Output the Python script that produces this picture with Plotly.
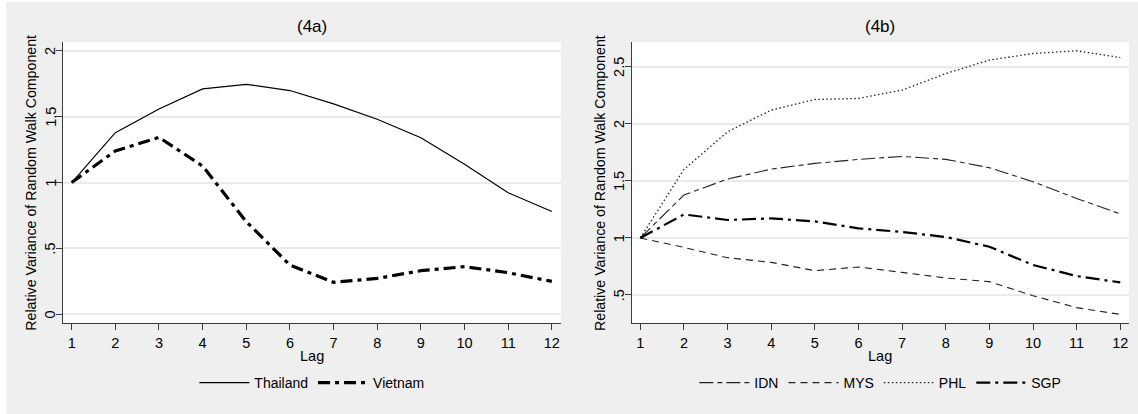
import plotly.graph_objects as go

lags = list(range(1, 13))

thailand = [1.0, 1.378, 1.558, 1.71, 1.745, 1.698, 1.597, 1.48, 1.34, 1.138, 0.923, 0.78]
vietnam = [1.0, 1.24, 1.343, 1.125, 0.703, 0.374, 0.243, 0.273, 0.331, 0.362, 0.316, 0.25]

idn = [1.0, 1.376, 1.516, 1.603, 1.653, 1.688, 1.714, 1.688, 1.615, 1.492, 1.346, 1.21]
mys = [1.0, 0.917, 0.827, 0.786, 0.713, 0.745, 0.698, 0.649, 0.617, 0.494, 0.389, 0.33]
phl = [1.0, 1.60, 1.93, 2.12, 2.213, 2.222, 2.295, 2.44, 2.558, 2.616, 2.64, 2.58]
sgp = [1.0, 1.206, 1.157, 1.171, 1.145, 1.084, 1.052, 1.008, 0.923, 0.763, 0.666, 0.61]

left_yticks = [0, 0.5, 1, 1.5, 2]
left_ytext = ["0", ".5", "1", "1.5", "2"]
right_yticks = [0.5, 1, 1.5, 2, 2.5]
right_ytext = [".5", "1", "1.5", "2", "2.5"]

FONT = "Arial, Liberation Sans, sans-serif"
BG = "#efefef"
GRID = "#eaeaea"
AX = "#3c3c3c"
W, H = 1138, 414
TF = 14

fig = go.Figure()

fig.add_trace(go.Scatter(x=lags, y=thailand, mode="lines", name="Thailand",
                         line=dict(color="black", width=1.2), xaxis="x", yaxis="y", legend="legend"))
fig.add_trace(go.Scatter(x=lags, y=vietnam, mode="lines", name="Vietnam",
                         line=dict(color="black", width=3.2, dash="12px,5px,4px,5px"),
                         xaxis="x", yaxis="y", legend="legend"))

fig.add_trace(go.Scatter(x=lags, y=idn, mode="lines", name="IDN",
                         line=dict(color="#222222", width=1.1, dash="14px,4px,5px,4px"),
                         xaxis="x2", yaxis="y2", legend="legend2"))
fig.add_trace(go.Scatter(x=lags, y=mys, mode="lines", name="MYS",
                         line=dict(color="#222222", width=1.1, dash="7px,5px"),
                         xaxis="x2", yaxis="y2", legend="legend2"))
fig.add_trace(go.Scatter(x=lags, y=phl, mode="lines", name="PHL",
                         line=dict(color="#222222", width=1.3, dash="1.5px,2.5px"),
                         xaxis="x2", yaxis="y2", legend="legend2"))
fig.add_trace(go.Scatter(x=lags, y=sgp, mode="lines", name="SGP",
                         line=dict(color="black", width=2.2, dash="14px,5px,3px,5px"),
                         xaxis="x2", yaxis="y2", legend="legend2"))

ydom = [1 - 323.3 / H, 1 - 42.3 / H]
LEFT = (62.7, 561)
RIGHT = (631.7, 1129)

xcommon = dict(tickvals=lags, ticktext=[str(v) for v in lags], showgrid=False, zeroline=False,
               showline=True, linecolor=AX, linewidth=1.3, ticks="outside", ticklen=6,
               tickcolor=AX, tickwidth=1.2, tickfont=dict(family=FONT, size=TF + 0.5, color="black"),
               ticklabeloverflow="allow")
ycommon = dict(showgrid=True, gridcolor=GRID, gridwidth=1.5, zeroline=False,
               showline=True, linecolor=AX, linewidth=1.3, ticks="outside", ticklen=6,
               tickcolor=AX, tickwidth=1.2, showticklabels=False, domain=ydom)

fig.update_layout(
    width=W, height=H,
    margin=dict(l=0, r=0, t=0, b=0),
    paper_bgcolor=BG, plot_bgcolor="white",
    font=dict(family=FONT, size=TF, color="black"),
    xaxis=dict(xcommon, domain=[LEFT[0] / W, LEFT[1] / W], range=[0.794, 12.21], anchor="y"),
    yaxis=dict(ycommon, range=[-0.068, 2.064], tickvals=left_yticks, anchor="x"),
    xaxis2=dict(xcommon, domain=[RIGHT[0] / W, RIGHT[1] / W], range=[0.803, 12.2], anchor="y2"),
    yaxis2=dict(ycommon, range=[0.252, 2.714], tickvals=right_yticks, anchor="x2"),
    legend=dict(orientation="h", x=sum(LEFT) / 2 / W, xanchor="center", y=1 - 383 / H, yanchor="middle",
                bgcolor="rgba(0,0,0,0)", font=dict(family=FONT, size=TF), itemwidth=50),
    legend2=dict(orientation="h", x=sum(RIGHT) / 2 / W, xanchor="center", y=1 - 383 / H, yanchor="middle",
                 bgcolor="rgba(0,0,0,0)", font=dict(family=FONT, size=TF), itemwidth=50),
    showlegend=True,
)

# rotated y tick labels (Stata style)
for (x0, _), yref, vals, texts in [(LEFT, "y", left_yticks, left_ytext),
                                   (RIGHT, "y2", right_yticks, right_ytext)]:
    for v, t in zip(vals, texts):
        fig.add_annotation(x=(x0 - 12.5) / W, xref="paper", y=v, yref=yref, text=t, textangle=-90,
                           showarrow=False, xanchor="center", yanchor="middle",
                           font=dict(family=FONT, size=TF + 0.5, color="black"))

# panel titles, x-axis titles and y-axis titles
for (x0, x1), txt in [(LEFT, "(4a)"), (RIGHT, "(4b)")]:
    xc = (x0 + x1) / 2 / W
    fig.add_annotation(x=xc, y=1 - 27 / H, xref="paper", yref="paper", text=txt, showarrow=False,
                       font=dict(family=FONT, size=17, color="black"), xanchor="center", yanchor="middle")
    fig.add_annotation(x=xc, y=1 - 356 / H, xref="paper", yref="paper", text="Lag", showarrow=False,
                       font=dict(family=FONT, size=TF + 0.5, color="black"), xanchor="center", yanchor="middle")
for xc in [30.7 / W, 600 / W]:
    fig.add_annotation(x=xc, y=1 - 183 / H, xref="paper", yref="paper",
                       text="Relative Variance of Random Walk Component", textangle=-90, showarrow=False,
                       font=dict(family=FONT, size=14.2, color="black"), xanchor="center", yanchor="middle")

# white outer strip at left and top edge
fig.add_shape(type="rect", xref="paper", yref="paper", x0=0, x1=6 / W, y0=0, y1=1,
              fillcolor="white", line=dict(width=0), layer="below")
fig.add_shape(type="rect", xref="paper", yref="paper", x0=0, x1=1, y0=1 - 2 / H, y1=1,
              fillcolor="white", line=dict(width=0), layer="below")

fig.write_html("out.html", config={"displayModeBar": False},
               post_script="document.body.style.margin='0';document.body.style.overflow='hidden';")
